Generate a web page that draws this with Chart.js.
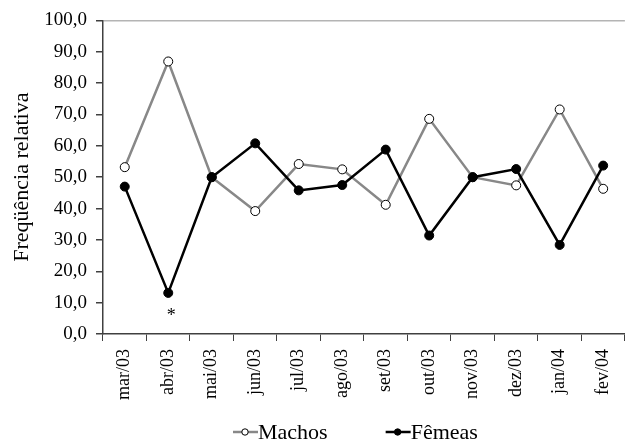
<!DOCTYPE html>
<html>
<head>
<meta charset="utf-8">
<script src="https://cdn.jsdelivr.net/npm/chart.js@4"></script>
<style>
  html, body { margin: 0; padding: 0; background: #fff; }
</style>
</head>
<body>
<canvas id="chart" width="633" height="443"></canvas>
<script>
// data
const months = ["mar/03", "abr/03", "mai/03", "jun/03", "jul/03", "ago/03",
  "set/03", "out/03", "nov/03", "dez/03", "jan/04", "fev/04"];
const machos = [53.2, 86.9, 50.0, 39.2, 54.2, 52.5, 41.2, 68.6, 50.0, 47.4, 71.6, 46.3];
const femeas = [47.0, 13.1, 50.0, 60.8, 45.8, 47.5, 58.8, 31.4, 50.0, 52.6, 28.4, 53.7];
const femeasNotes = ["", "*", "", "", "", "", "", "", "", "", "", ""];

const serif = "'Liberation Serif', 'Times New Roman', serif";

// asterisk under the marked points
const notesPlugin = {
  id: "notes",
  afterDatasetsDraw(chart) {
    const meta = chart.getDatasetMeta(1);
    const ctx = chart.ctx;
    ctx.save();
    ctx.font = "18px " + serif;
    ctx.fillStyle = "#000";
    ctx.textAlign = "center";
    ctx.textBaseline = "middle";
    meta.data.forEach((pt, i) => {
      if (femeasNotes[i]) ctx.fillText(femeasNotes[i], pt.x + 3, pt.y + 23);
    });
    ctx.restore();
  }
};

// excel-style legend: line with marker, then the name
const legendPlugin = {
  id: "bottomLegend",
  afterDraw(chart) {
    const ctx = chart.ctx;
    const y = 432;
    let x = 233;
    ctx.save();
    ctx.font = "22px " + serif;
    ctx.textBaseline = "middle";
    chart.data.datasets.forEach((ds) => {
      ctx.strokeStyle = ds.borderColor;
      ctx.lineWidth = 2.5;
      ctx.beginPath();
      ctx.moveTo(x, y);
      ctx.lineTo(x + 25, y);
      ctx.stroke();
      ctx.beginPath();
      ctx.arc(x + 12, y, 3.2, 0, Math.PI * 2);
      ctx.fillStyle = ds.pointBackgroundColor;
      ctx.fill();
      ctx.lineWidth = 1;
      ctx.strokeStyle = ds.pointBorderColor;
      ctx.stroke();
      ctx.fillStyle = "#000";
      ctx.fillText(ds.label, x + 25, y + 1);
      x += 25 + ctx.measureText(ds.label).width + 58;
    });
    ctx.restore();
  }
};

new Chart(document.getElementById("chart"), {
  type: "line",
  data: {
    labels: months,
    datasets: [
      {
        label: "Machos",
        data: machos,
        borderColor: "#888888",
        borderWidth: 2.5,
        pointBackgroundColor: "#ffffff",
        pointBorderColor: "#000000",
        pointBorderWidth: 1,
        pointRadius: 4.5,
        tension: 0,
        order: 1
      },
      {
        label: "Fêmeas",
        data: femeas,
        borderColor: "#000000",
        borderWidth: 2.5,
        pointBackgroundColor: "#000000",
        pointBorderColor: "#000000",
        pointBorderWidth: 1,
        pointRadius: 4.5,
        tension: 0,
        order: 0
      }
    ]
  },
  options: {
    responsive: false,
    animation: false,
    devicePixelRatio: 1,
    layout: { padding: { top: 20, right: 1, left: 0, bottom: 0 } },
    scales: {
      x: {
        offset: true,
        grid: {
          offset: true,
          drawOnChartArea: false,
          drawTicks: true,
          tickLength: 7,
          tickColor: "#404040",
          tickWidth: 1
        },
        border: { color: "#404040", width: 1.5 },
        ticks: {
          color: "#000",
          font: { family: serif, size: 18 },
          maxRotation: 90,
          minRotation: 90,
          autoSkip: false,
          padding: 8
        },
        afterFit: (scale) => { scale.height = 109; }
      },
      y: {
        min: 0,
        max: 100,
        grid: {
          drawTicks: true,
          tickLength: 7,
          tickColor: "#404040",
          color: (c) => (c.tick && c.tick.value === 100 ? "#b4b4b4" : "rgba(0,0,0,0)"),
          lineWidth: 1.5
        },
        border: { color: "#404040", width: 1.5 },
        ticks: {
          stepSize: 10,
          color: "#000",
          font: { family: serif, size: 19 },
          padding: 9,
          callback: (v) => v.toFixed(1).replace(".", ",")
        },
        title: {
          display: true,
          text: "Freqüência relativa",
          color: "#000",
          font: { family: serif, size: 22 },
          padding: { top: 9, bottom: 0 }
        },
        afterFit: (scale) => { scale.width = 103; }
      }
    },
    plugins: {
      legend: { display: false },
      tooltip: { enabled: false }
    }
  },
  plugins: [notesPlugin, legendPlugin]
});
</script>
</body>
</html>
